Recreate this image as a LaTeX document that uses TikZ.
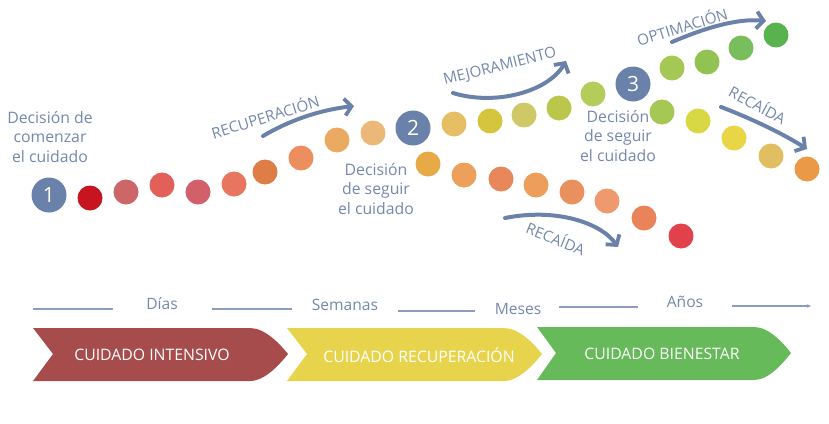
\documentclass[tikz,border=0pt]{standalone}
\usepackage{fontspec}
\setmainfont{Open Sans}
\usetikzlibrary{arrows.meta}
\definecolor{slate}{HTML}{6A81AA}
\definecolor{txtc}{HTML}{7487AC}
\definecolor{linec}{HTML}{8C9CC0}
\definecolor{redch}{HTML}{A64C4C}
\definecolor{yelch}{HTML}{E8D44C}
\definecolor{grnch}{HTML}{66BA5A}
\tikzset{
  dot/.style={circle, minimum size=25pt, inner sep=0pt, draw=none},
  numc/.style={circle, minimum size=35pt, inner sep=0pt, fill=slate, text=white, font=\fontsize{21}{21}\selectfont},
  lbl/.style={text=txtc, align=center, font=\fontsize{15.8}{19.5}\selectfont, inner sep=0pt},
  arlbl/.style={text=txtc, font=\fontsize{15.2}{15}\selectfont, inner sep=0pt},
  bigarrow/.style={draw=slate, line width=4pt, line cap=round, -{Straight Barb[length=7pt,width=17pt,line width=3.8pt]}},
  tline/.style={draw=linec, line width=1.1pt},
  tlbl/.style={text=txtc, font=\fontsize{15.6}{16}\selectfont, inner sep=0pt},
  chtxt/.style={text=white, font=\fontsize{15.8}{16}\selectfont, inner sep=0pt}
}
\begin{document}
\begin{tikzpicture}[x=1pt,y=-1pt]
\useasboundingbox (0,0) rectangle (829,423);
% main row of dots
\foreach \x/\y/\c [count=\i] in {90/198/C8141E, 126/192/CD6666, 162/185/E35F5A, 198/192/D2606A, 234/184/E87560, 265/172/DF7D46, 301/158/EC8E5E, 337/140/EBAA62, 373/133/EAB878}{
  \definecolor{tmp}{HTML}{\c}
  \node[dot, fill=tmp] (a\i) at (\x,\y) {};
}
% upper branch
\foreach \x/\y/\c [count=\i] in {454/124/E6BE64, 490/121/D4C43E, 524/115/CEC866, 559/108/BBC74A, 593/94/B4CD5A, 672/68/A5C855, 707/62/92C352, 741/48/78BE5C, 776/35/58B24E}{
  \definecolor{tmp}{HTML}{\c}
  \node[dot, fill=tmp] (u\i) at (\x,\y) {};
}
% lower branch from 3
\foreach \x/\y/\c [count=\i] in {662/112/A5C855, 698/121/D8D844, 734/138/E8D646, 771/156/E2BE62, 807/169/EA9A46}{
  \definecolor{tmp}{HTML}{\c}
  \node[dot, fill=tmp] (r\i) at (\x,\y) {};
}
% lower branch from 2
\foreach \x/\y/\c [count=\i] in {428/164/E8AA46, 464/175/ECA05A, 501/179/E8875A, 536/185/EC9E5A, 572/192/E8905E, 607/201/EE9A6E, 644/218/E9845A, 681/236/E1414B}{
  \definecolor{tmp}{HTML}{\c}
  \node[dot, fill=tmp] (l\i) at (\x,\y) {};
}
% numbered circles
\node[numc] (n1) at (49,195) {1};
\node[numc] (n2) at (413,128) {2};
\node[numc] (n3) at (633,84) {3};
% decision labels
\node[lbl] (t1) at (50,137) {Decisión de\\comenzar\\el cuidado};
\node[lbl] (t2) at (376,189) {Decisión\\de seguir\\el cuidado};
\node[lbl] (t3) at (618,136) {Decisión\\de seguir\\el cuidado};
% arrow labels
\node[arlbl, rotate=17] (k1) at (265,116) {RECUPERACIÓN};
\node[arlbl, rotate=14] (k2) at (500,67) {MEJORAMIENTO};
\node[arlbl, rotate=17] (k3) at (682,26) {OPTIMACIÓN};
\node[arlbl, rotate=-28] (k4) at (758,104) {RECAÍDA};
\node[arlbl, rotate=-22] (k5) at (556,238) {RECAÍDA};
% arrows
\coordinate (p1s) at (263,136); \coordinate (p1e) at (354,106);
\coordinate (p2s) at (453,93);  \coordinate (p2e) at (566,61);
\coordinate (p3s) at (672,42);  \coordinate (p3e) at (766,21);
\coordinate (p4s) at (721,107); \coordinate (p4e) at (807,149);
\coordinate (p5s) at (505,218); \coordinate (p5e) at (618,247);
\draw[bigarrow] (p1s) .. controls (290,120) and (320,110) .. (p1e);
\draw[bigarrow] (p2s) .. controls (495,106) and (548,92) .. (p2e);
\draw[bigarrow] (p3s) .. controls (700,30) and (735,18) .. (p3e);
\draw[bigarrow] (p4s) .. controls (755,120) and (785,135) .. (p4e);
\draw[bigarrow] (p5s) .. controls (555,208) and (600,222) .. (p5e);
% timeline
\coordinate (ta) at (33,309); \coordinate (tb) at (113,309);
\coordinate (tc) at (212,309); \coordinate (td) at (292,309);
\coordinate (te) at (398,311); \coordinate (tf) at (475,311);
\coordinate (tg) at (559,307); \coordinate (th) at (638,307);
\coordinate (ti) at (732,306); \coordinate (tj) at (811,306);
\draw[tline] (ta) -- (tb);
\draw[tline] (tc) -- (td);
\draw[tline] (te) -- (tf);
\draw[tline] (tg) -- (th);
\draw[tline, -{Stealth[length=4pt,width=3.5pt]}] (ti) -- (tj);
\node[tlbl] (w1) at (162,304) {Días};
\node[tlbl] (w2) at (345,305) {Semanas};
\node[tlbl] (w3) at (518,309) {Meses};
\node[tlbl] (w4) at (685,302) {Años};
% chevrons
\fill[redch] (33,328) -- (250,328) .. controls (265,328) and (280,344) .. (288,354) .. controls (280,364) and (265,381) .. (250,381) -- (33,381) -- (53,354) -- cycle;
\fill[yelch] (287,328) -- (504,328) .. controls (519,328) and (534,344) .. (542,354) .. controls (534,364) and (519,381) .. (504,381) -- (287,381) -- (307,354) -- cycle;
\fill[grnch] (537,327) -- (754,327) .. controls (769,327) and (783,343) .. (791,353) .. controls (783,363) and (769,380) .. (754,380) -- (537,380) -- (556,353) -- cycle;
\node[chtxt] (c1) at (152,355) {CUIDADO INTENSIVO};
\node[chtxt] (c2) at (419,355) {CUIDADO RECUPERACIÓN};
\node[chtxt] (c3) at (662,354) {CUIDADO BIENESTAR};
\end{tikzpicture}
\end{document}
